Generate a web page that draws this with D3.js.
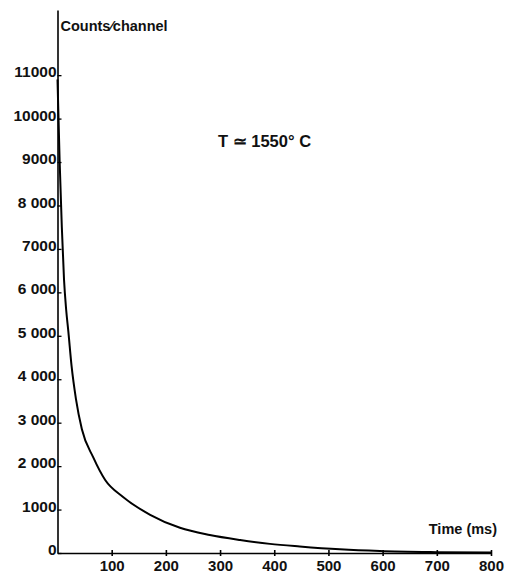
<!DOCTYPE html>
<html>
<head>
<meta charset="utf-8">
<script src="https://cdn.jsdelivr.net/npm/d3@7"></script>
<style>
  html, body { margin: 0; padding: 0; background: #fff; }
  svg { display: block; font-family: "Liberation Sans", Arial, sans-serif; }
</style>
</head>
<body>
<div id="app"></div>
<script>
// decay curve
const time_ms = [0, 4, 8, 12, 16, 20, 26, 34, 45, 66, 88, 121, 171, 226, 281, 337, 392, 447, 521, 595, 700, 800]
const counts = [10900, 9000, 7500, 6300, 5600, 5100, 4300, 3550, 2850, 2200, 1680, 1290, 880, 580, 415, 300, 210, 150, 85, 45, 20, 10]

// axis ticks and their printed labels (spacing as in the original)
const y_ticks = [0, 1000, 2000, 3000, 4000, 5000, 6000, 7000, 8000, 9000, 10000, 11000]
const y_labels = ['0', '1000', '2 000', '3 000', '4 000', '5 000', '6 000', '7000', '8 000', '9000', '10000', '11000']
const x_ticks = [100, 200, 300, 400, 500, 600, 700, 800]

const y_title = 'Counts\u2044channel'
const x_title = 'Time (ms)'
const note = 'T \u2243 1550\u00b0 C'

function main() {
  const app = d3.select('#app')

  const svg = d3.create('svg')
    .attr('width', 506)
    .attr('height', 579)

  // scales
  const x_scale = d3.scaleLinear().domain([0, 800]).range([57.5, 491])
  const y_scale = d3.scaleLinear().domain([0, 12500]).range([553, 10])

  // y axis: ticks point inward, labels sit against the line
  const y_axis = d3.axisLeft(y_scale)
    .tickValues(y_ticks)
    .tickFormat((d, i) => y_labels[i])
    .tickSizeInner(-4)
    .tickSizeOuter(0)
    .tickPadding(1)

  const gy = svg.append('g')
    .attr('transform', `translate(${x_scale(0)},0)`)
    .call(y_axis)
  gy.select('.domain').attr('stroke-width', 1.6)
  gy.selectAll('.tick line').attr('stroke-width', 1.3)
  gy.selectAll('.tick text')
    .attr('font-size', 15.5)
    .attr('font-weight', 'bold')
    .attr('fill', '#111')
    .attr('dy', '0.1em')

  // x axis: ticks cross the line
  const x_axis = d3.axisBottom(x_scale)
    .tickValues(x_ticks)
    .tickSizeInner(3)
    .tickSizeOuter(0)
    .tickPadding(4)

  const gx = svg.append('g')
    .attr('transform', `translate(0,${y_scale(0)})`)
    .call(x_axis)
  gx.select('.domain').attr('stroke-width', 1.6)
  gx.selectAll('.tick line').attr('y1', -3).attr('y2', 3).attr('stroke-width', 1.6)
  gx.selectAll('.tick text')
    .attr('font-size', 15)
    .attr('font-weight', 'bold')
    .attr('fill', '#111')

  // the decay curve
  const line = d3.line()
    .x((d) => x_scale(d))
    .y((d, i) => y_scale(counts[i]))
    .curve(d3.curveMonotoneX)

  svg.append('path')
    .datum(time_ms)
    .attr('d', line)
    .attr('fill', 'none')
    .attr('stroke', '#000')
    .attr('stroke-width', 2)

  // titles
  svg.append('text')
    .attr('x', x_scale(0) + 3)
    .attr('y', 31)
    .attr('font-size', 14.5)
    .attr('font-weight', 'bold')
    .attr('fill', '#111')
    .text(y_title)

  svg.append('text')
    .attr('x', 497)
    .attr('y', 534)
    .attr('text-anchor', 'end')
    .attr('font-size', 14.5)
    .attr('font-weight', 'bold')
    .attr('fill', '#111')
    .text(x_title)

  svg.append('text')
    .attr('x', 218)
    .attr('y', 147)
    .attr('font-size', 16.5)
    .attr('font-weight', 'bold')
    .attr('fill', '#111')
    .text(note)

  app.append(() => svg.node())
}

main()
</script>
</body>
</html>
